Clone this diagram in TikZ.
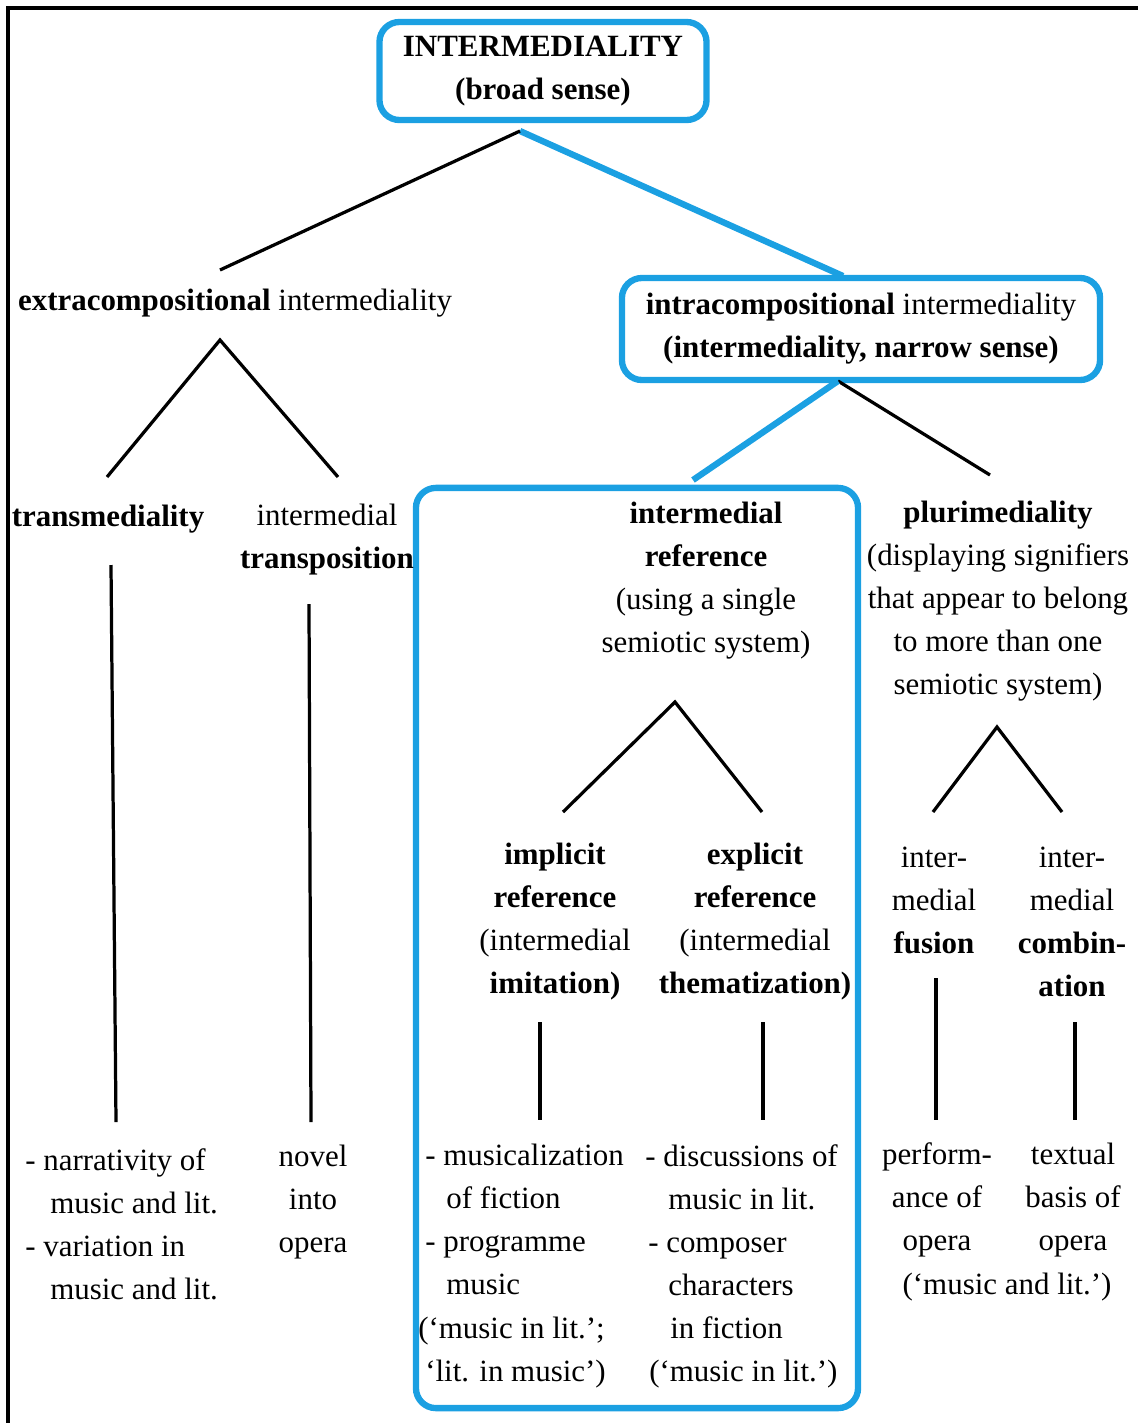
\documentclass[tikz,border=0pt]{standalone}
\usepackage{fontspec}
\setmainfont{Liberation Serif}
\definecolor{boxblue}{RGB}{27,160,226}
\tikzset{
	txt/.style={align=center,inner sep=0pt,font=\fontsize{22}{30.6}\selectfont},
	listtxt/.style={txt,align=left,anchor=west},
	blueframe/.style={draw=boxblue,line width=4.5pt,rounded corners=0.5cm},
	bluebox/.style={blueframe,txt},
	branch/.style={line width=2.3pt},
	blueline/.style={draw=boxblue,line width=4.5pt}
}
\begin{document}
\begin{tikzpicture}[x=0.025cm,y=-0.025cm]
	\useasboundingbox (0,0) rectangle (1138,1423);
	\draw [line width=2.2pt] (8,1423) -- (8,8) -- (1138,8);
	% boxes
	\node [bluebox,minimum width=8.175cm,minimum height=2.45cm] (broad) at (543,71)
	{\textbf{INTERMEDIALITY}\\\textbf{(broad sense)}};
	\node [bluebox,minimum width=11.95cm,minimum height=2.55cm] (intra) at (861,329)
	{\textbf{intracompositional} intermediality\\\textbf{(intermediality, narrow sense)}};
	\node [blueframe,minimum width=11.05cm,minimum height=23cm] (refgroup) at (637,948) {};
	% tree labels
	\node [txt] (extra) at (235,303) {\textbf{extracompositional} intermediality};
	\node [txt] (trans) at (108,519) {\textbf{transmediality}};
	\node [txt] (transpo) at (327,540) {intermedial\\\textbf{transposition}};
	\node [txt] (reference) at (706,581) {\textbf{intermedial}\\\textbf{reference}\\(using a single\\semiotic system)};
	\node [txt] (pluri) at (998,601) {\textbf{plurimediality}\\(displaying signifiers\\that appear to belong\\to more than one\\semiotic system)};
	\node [txt] (implicit) at (555,922) {\textbf{implicit}\\\textbf{reference}\\(intermedial\\\textbf{imitation)}};
	\node [txt] (explicit) at (755,922) {\textbf{explicit}\\\textbf{reference}\\(intermedial\\\textbf{thematization)}};
	\node [txt] (fusion) at (934,900) {inter-\\medial\\\textbf{fusion}};
	\node [txt] (combin) at (1072,922) {inter-\\medial\\\textbf{combin-}\\\textbf{ation}};
	% examples
	\node [listtxt] (narr) at (25,1224) {- narrativity of\\\hspace*{0.625cm}music and lit.\\- variation in\\\hspace*{0.625cm}music and lit.};
	\node [txt] (novel) at (313,1202) {novel\\into\\opera};
	\node [listtxt] (musical) at (418,1266) {\hspace*{0.175cm}- musicalization\\\hspace*{0.7cm}of fiction\\\hspace*{0.175cm}- programme\\\hspace*{0.7cm}music\\(`music in lit.';\\\hspace*{0.175cm}`lit. in music')};
	\node [listtxt] (discuss) at (645,1266) {- discussions of\\\hspace*{0.575cm}music in lit.\\\hspace*{0.075cm}- composer\\\hspace*{0.575cm}characters\\\hspace*{0.625cm}in fiction\\\hspace*{0.1cm}(`music in lit.')};
	\node [txt] (perform) at (937,1200) {perform-\\ance of\\opera};
	\node [txt] (textual) at (1073,1200) {textual\\basis of\\opera};
	\node [txt] (mlit) at (1007,1287) {(`music and lit.')};
	% connector ends
	\coordinate (broadFork) at (520,131);
	\coordinate (extraTop) at (220,270);
	\coordinate (intraTop) at (843,276);
	\coordinate (extraFork) at (220,340);
	\coordinate (transTop) at (107,477);
	\coordinate (transpoTop) at (338,477);
	\coordinate (transFoot) at (111,565);
	\coordinate (narrTop) at (116,1122);
	\coordinate (transpoFoot) at (309,604);
	\coordinate (novelTop) at (311,1122);
	\coordinate (intraFork) at (838,381);
	\coordinate (refTop) at (693,480);
	\coordinate (pluriTop) at (990,475);
	\coordinate (refFork) at (675,702);
	\coordinate (implicitTop) at (563,812);
	\coordinate (explicitTop) at (762,812);
	\coordinate (pluriFork) at (997,727);
	\coordinate (fusionTop) at (933,812);
	\coordinate (combinTop) at (1062,812);
	\coordinate (implicitFoot) at (540,1022);
	\coordinate (musicalTop) at (540,1120);
	\coordinate (explicitFoot) at (763,1022);
	\coordinate (discussTop) at (763,1120);
	\coordinate (fusionFoot) at (936,978);
	\coordinate (performTop) at (936,1120);
	\coordinate (combinFoot) at (1075,1022);
	\coordinate (textualTop) at (1075,1120);
	% connectors
	\draw [blueline] (broadFork) -- (intraTop);
	\draw [branch] (broadFork) -- (extraTop);
	\draw [branch] (transTop) -- (extraFork) -- (transpoTop);
	\draw [branch] (transFoot) -- (narrTop);
	\draw [branch] (transpoFoot) -- (novelTop);
	\draw [branch] (intraFork) -- (pluriTop);
	\draw [blueline] (intraFork) -- (refTop);
	\draw [branch] (implicitTop) -- (refFork) -- (explicitTop);
	\draw [branch] (fusionTop) -- (pluriFork) -- (combinTop);
	\draw [branch] (implicitFoot) -- (musicalTop);
	\draw [branch] (explicitFoot) -- (discussTop);
	\draw [branch] (fusionFoot) -- (performTop);
	\draw [branch] (combinFoot) -- (textualTop);
\end{tikzpicture}
\end{document}
